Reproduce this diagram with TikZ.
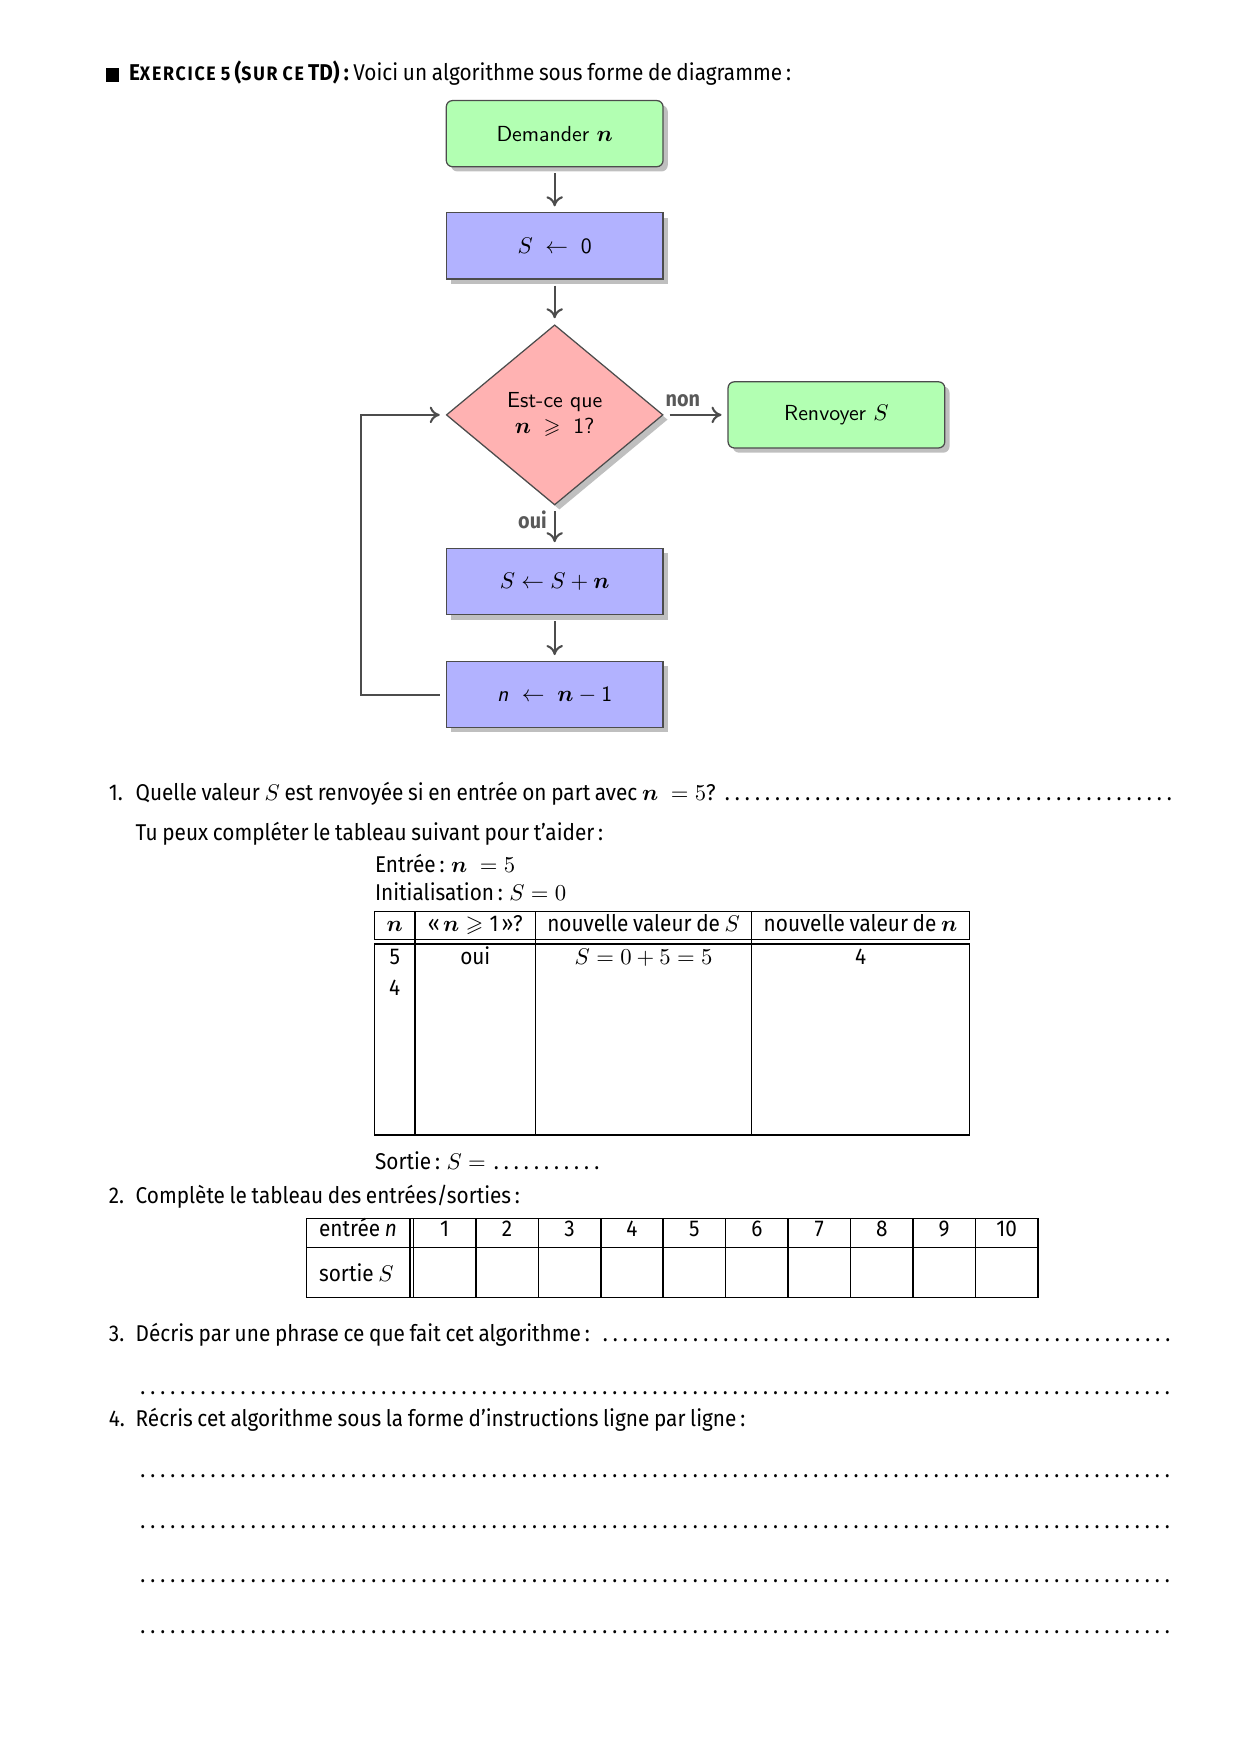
\documentclass[tikz,border=0pt]{standalone}
\usepackage{amsmath,amssymb}
\usepackage{fontspec}
\setmainfont{Fira Sans}[FakeStretch=0.91, WordSpace=0.85]
\usetikzlibrary{arrows.meta,positioning,shapes.geometric,shadows}

\tikzset{
  boite/.style={draw=black!70, line width=0.6pt, minimum width=3.67cm, minimum height=1.12cm,
    font=\sffamily\fontsize{10.5}{12.5}\selectfont, drop shadow={shadow xshift=0.8mm, shadow yshift=-0.8mm}},
  debut/.style={boite, rounded corners=3pt, fill=green!30},
  instr/.style={boite, fill=blue!30},
  question/.style={boite, diamond, fill=red!30, minimum width=3.67cm, minimum height=3.05cm,
    inner sep=0pt, align=center},
  fleche/.style={->, draw=black!70, line width=1pt, shorten <=1mm, shorten >=1mm},
  etiq/.style={font=\fontsize{10.5}{12}\selectfont\bfseries, text=black!65},
  texte/.style={anchor=base west, inner sep=0pt},
  cellule/.style={anchor=base, inner sep=0pt},
  tableau/.style={line width=0.7pt},
}
\newcommand{\petitcap}[1]{{\fontsize{9.4}{10}\selectfont\addfontfeature{LetterSpace=9}#1}}
\newcommand{\ligne}[1]{\makebox[17.59cm][l]{#1}}

\begin{document}
\begin{tikzpicture}[>={To[length=1.7mm,width=2.8mm]}, font=\fontsize{11}{13.6}\selectfont]
  \useasboundingbox (0,0) rectangle (21,-29.7);

  % en-tete
  \fill (1.80,-1.155) rectangle (2.01,-1.382);
  \node[texte] (titre) at (2.178,-1.363) {\textbf{E\petitcap{XERCICE 5} (\petitcap{SUR CE} TD) :}
    Voici un algorithme sous forme de diagramme\,:};

  % diagramme
  \node[debut] (dem) at (9.392,-2.263) {Demander $\boldsymbol{n}$};
  \node[instr, below=0.76cm of dem] (init) {$S \;\leftarrow\; \text{0}$};
  \node[question, below=0.755cm of init] (cond) {Est-ce que\\ $\boldsymbol{n} \;\geqslant\; \text{1}$?};
  \node[instr, below=0.72cm of cond] (ajout) {$S \leftarrow S + \boldsymbol{n}$};
  \node[instr, below=0.77cm of ajout] (decr) {\textit{n} $\;\leftarrow\; \boldsymbol{n} - \text{1}$};
  \node[debut, right=1.08cm of cond] (renv) {Renvoyer $S$};
  \coordinate (boucle) at (6.116,0);

  \draw[fleche] (dem) -- (init);
  \draw[fleche] (init) -- (cond);
  \draw[fleche] (cond) -- node[etiq, pos=0.33, left] (oui) {oui} (ajout);
  \draw[fleche] (ajout) -- (decr);
  \draw[fleche] (cond) -- node[etiq, pos=0.3, above] (non) {non} (renv);
  \draw[fleche] (decr.west) -- (decr.west -| boucle) |- (cond.west);

  % question 1
  \node[texte] (num1) at (1.837,-13.558) {1.};
  \node[texte] (q1) at (2.291,-13.558)
    {\ligne{Quelle valeur $S$ est renvoyée si en entrée on part avec $\boldsymbol{n} \;= 5$? \dotfill}};
  \node[texte] (aide) at (2.291,-14.240) {Tu peux compléter le tableau suivant pour t’aider\,:};
  \node[texte] (entree) at (6.344,-14.770) {Entrée\,: $\boldsymbol{n} \;= 5$};
  \node[texte] (initial) at (6.344,-15.243) {Initialisation\,: $S = 0$};

  \draw[tableau] (6.344,-15.433) rectangle (16.418,-15.906);
  \draw[tableau] (6.344,-15.982) rectangle (16.418,-19.220);
  \foreach \x in {7.025,9.070,12.725}
    \draw[tableau] (\x,-15.433) -- (\x,-19.220);
  \node[cellule] (h1) at (6.684,-15.774) {$\boldsymbol{n}$};
  \node[cellule] (h2) at (8.048,-15.774) {«\kern1.5pt$\boldsymbol{n} \geqslant \text{1}$\kern1.5pt»?};
  \node[cellule] (h3) at (10.898,-15.774) {nouvelle valeur de $S$};
  \node[cellule] (h4) at (14.571,-15.774) {nouvelle valeur de $\boldsymbol{n}$};
  \node[cellule] (c1) at (6.684,-16.323) {5};
  \node[cellule] (c2) at (8.048,-16.323) {oui};
  \node[cellule] (c3) at (10.898,-16.323) {$S = 0 + 5 = 5$};
  \node[cellule] (c4) at (14.571,-16.323) {4};
  \node[cellule] (c5) at (6.684,-16.853) {4};
  \node[texte] (sortie) at (6.344,-19.807) {Sortie\,: $S =$ \makebox[1.9cm]{\dotfill}};

  % question 2
  \node[texte] (num2) at (1.837,-20.375) {2.};
  \node[texte] (q2) at (2.291,-20.375) {Complète le tableau des entrées/sorties\,:};
  \draw[tableau] (5.188,-20.635) rectangle (17.573,-21.971);
  \draw[tableau] (5.188,-21.125) -- (17.573,-21.125);
  \draw[tableau] (6.944,-20.635) -- (6.944,-21.971);
  \node[texte] (ent) at (5.397,-20.943) {entrée \textit{n}};
  \node[texte] (sor) at (5.397,-21.701) {sortie $S$};
  \foreach \n in {1,...,10} {
    \draw[tableau] ({7.001+1.0572*(\n-1)},-20.635) -- ++(0,-1.336);
    \node[cellule] (v\n) at ({7.001+1.0572*(\n-0.5)},-20.943) {\n};
  }

  % questions 3 et 4
  \node[texte] (num3) at (1.837,-22.723) {3.};
  \node[texte] (q3) at (2.291,-22.723)
    {\makebox[17.63cm][l]{Décris par une phrase ce que fait cet algorithme\,: \dotfill}};
  \node[texte] (l0) at (2.291,-23.613) {\ligne{\dotfill}};
  \node[texte] (num4) at (1.837,-24.162) {4.};
  \node[texte] (q4) at (2.291,-24.162) {Récris cet algorithme sous la forme d’instructions ligne par ligne\,:};
  \foreach \y [count=\k] in {-25.014,-25.886,-26.795,-27.666}
    \node[texte] (l\k) at (2.291,\y) {\ligne{\dotfill}};
\end{tikzpicture}
\end{document}
